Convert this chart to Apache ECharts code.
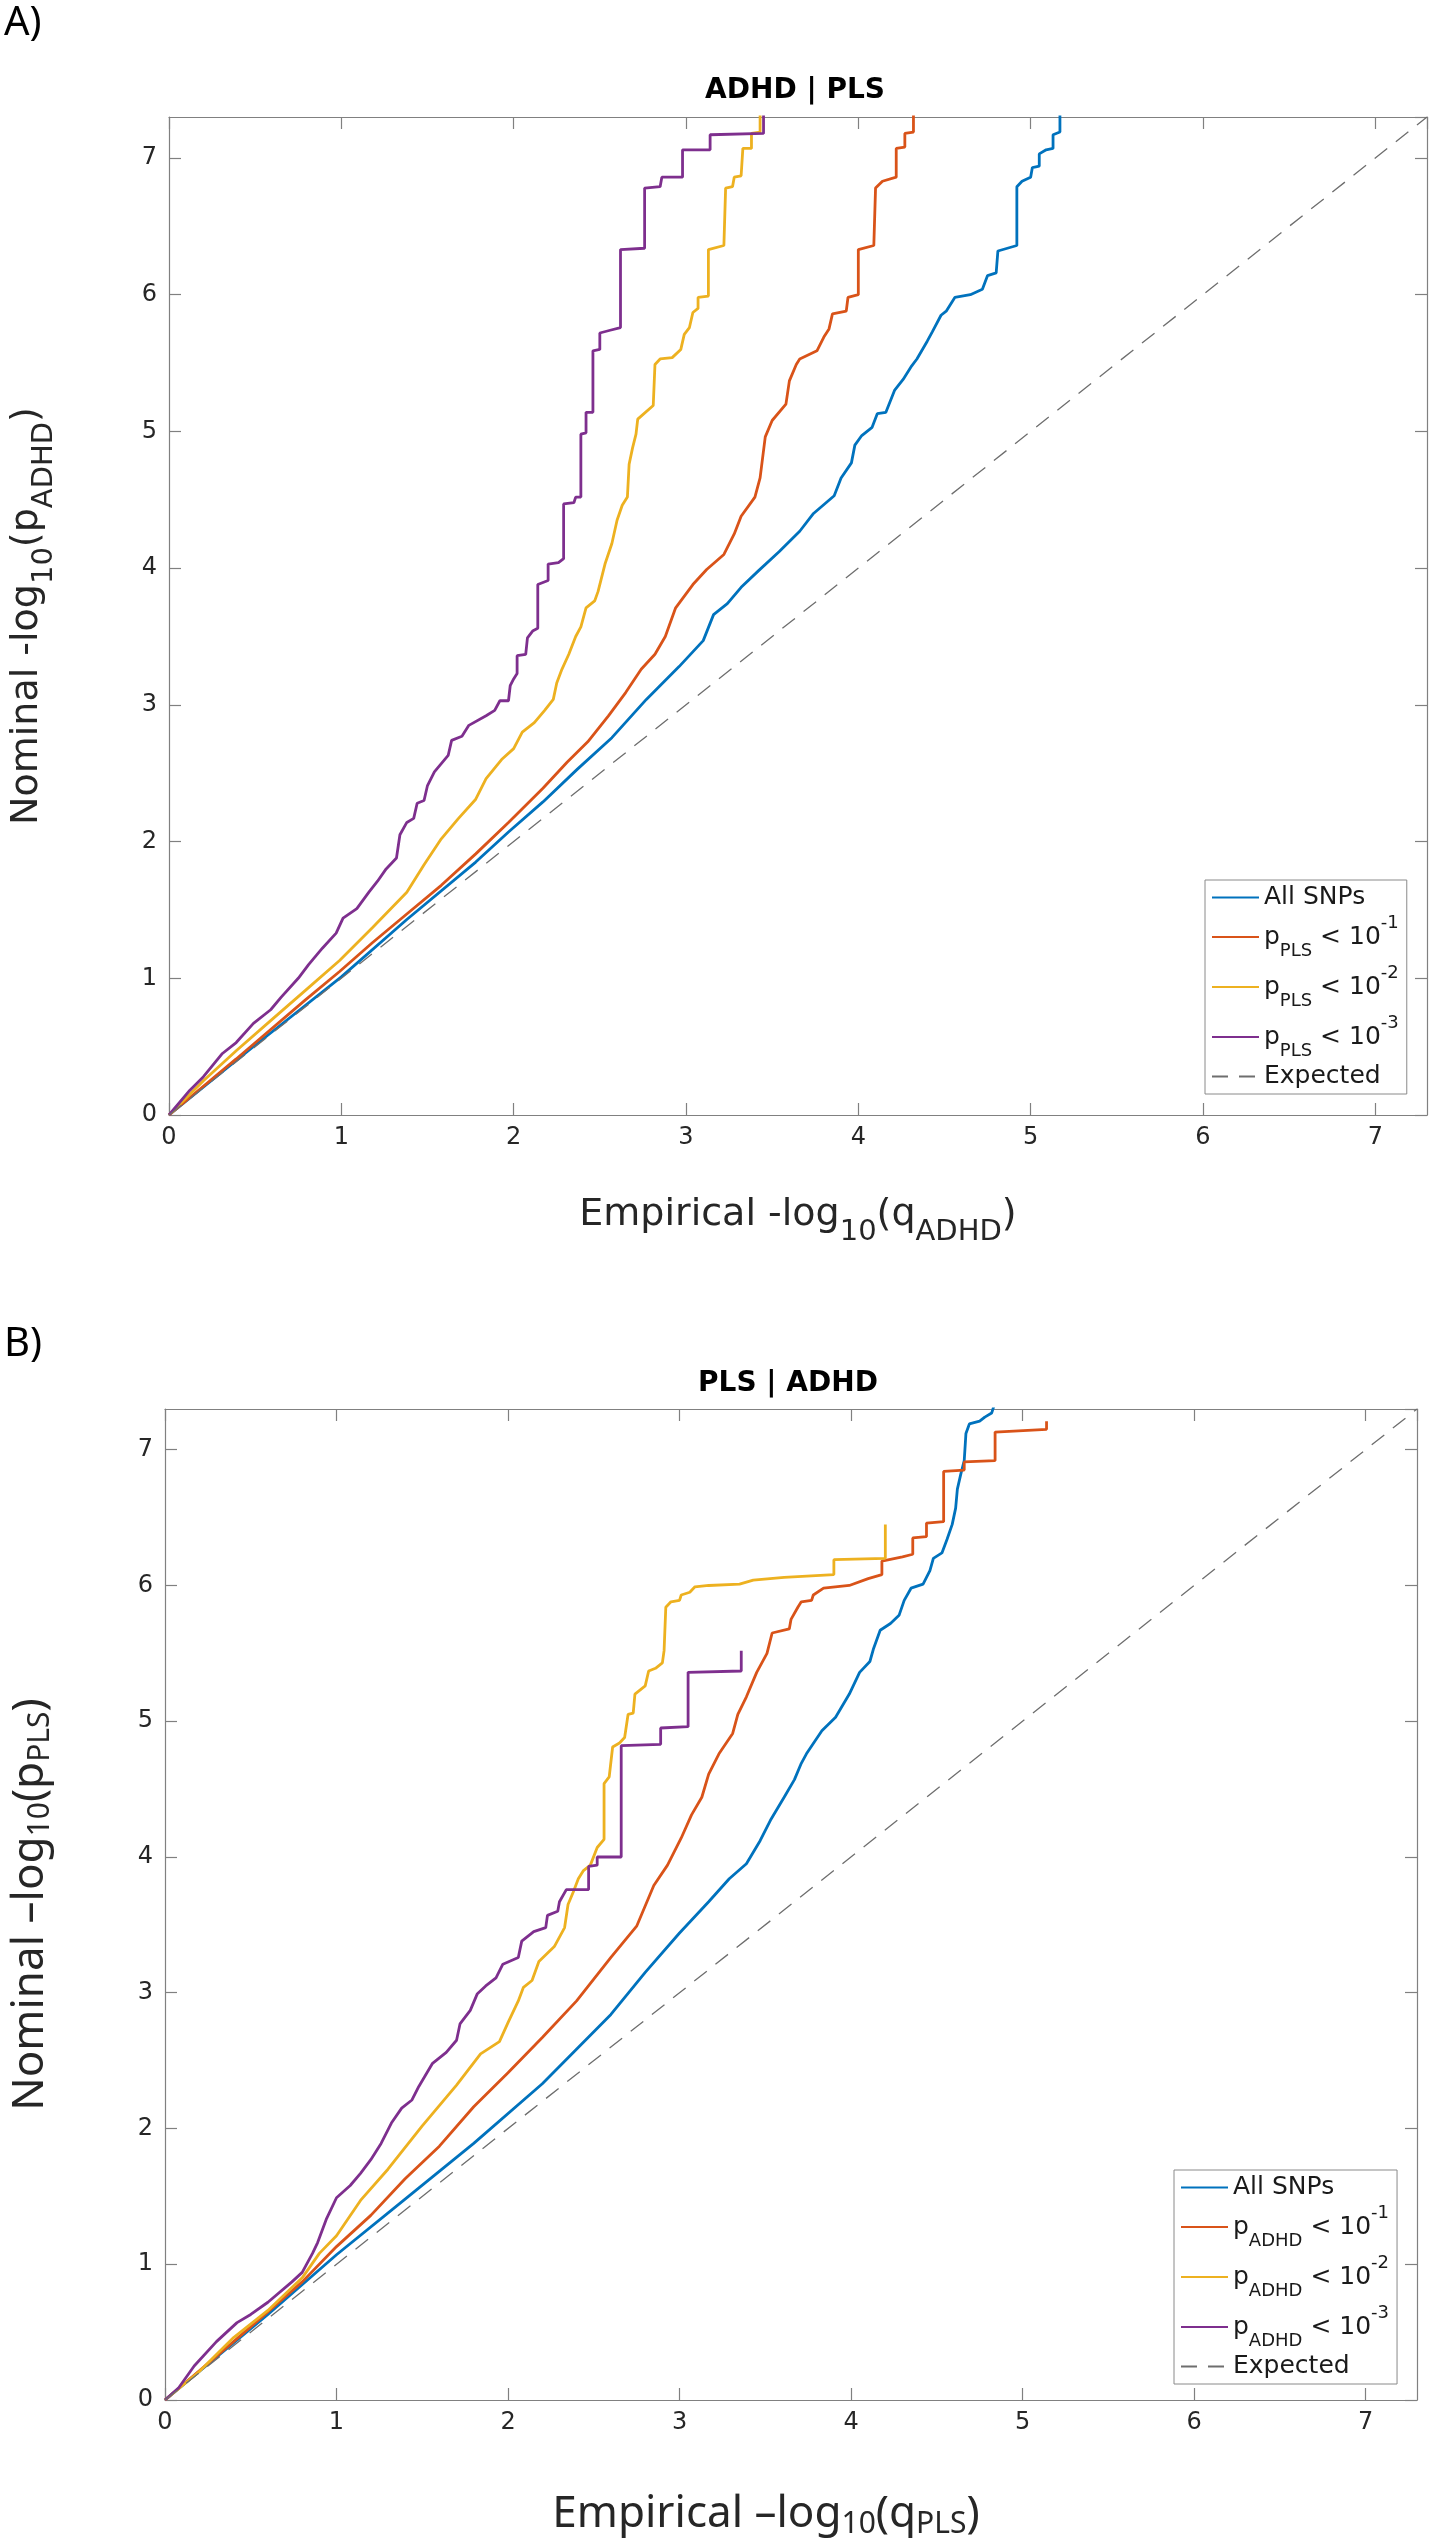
<!DOCTYPE html>
<html>
<head>
<meta charset="utf-8">
<script src="https://cdn.jsdelivr.net/npm/echarts@6/dist/echarts.min.js"></script>
<style>
html, body { margin: 0; padding: 0; background: #fff; }
#view { width: 1432px; height: 2540px; }
</style>
</head>
<body>
<div id="view"></div>
<script>
// axis range shared by both panels
var axisMax = 7.3;
var tickStep = 1;

// panel A: ADHD | PLS  (x = empirical, y = nominal)
var adhdAll = [[0,0],[0.5,0.51],[1.0,1.01],[1.38,1.43],[1.78,1.85],[1.97,2.07],[2.17,2.29],[2.37,2.53],[2.57,2.76],[2.77,3.04],[2.96,3.28],[3.10,3.47],[3.16,3.66],[3.24,3.74],[3.32,3.86],[3.42,3.98],[3.54,4.12],[3.66,4.27],[3.74,4.40],[3.86,4.53],[3.90,4.66],[3.96,4.77],[3.98,4.90],[4.02,4.97],[4.08,5.03],[4.11,5.13],[4.16,5.14],[4.21,5.30],[4.26,5.38],[4.31,5.48],[4.34,5.53],[4.40,5.66],[4.43,5.73],[4.48,5.85],[4.51,5.88],[4.56,5.98],[4.65,6.0],[4.72,6.04],[4.75,6.14],[4.80,6.16],[4.81,6.32],[4.92,6.36],[4.92,6.79],[4.95,6.83],[5.0,6.86],[5.01,6.93],[5.05,6.94],[5.05,7.03],[5.09,7.06],[5.13,7.07],[5.13,7.17],[5.17,7.19],[5.17,7.35]];
var adhdP1 = [[0,0],[0.39,0.41],[0.79,0.84],[0.99,1.05],[1.18,1.26],[1.38,1.47],[1.58,1.68],[1.78,1.91],[1.97,2.14],[2.17,2.39],[2.31,2.58],[2.43,2.73],[2.55,2.92],[2.65,3.09],[2.74,3.26],[2.82,3.37],[2.88,3.50],[2.94,3.71],[3.04,3.88],[3.12,3.99],[3.22,4.10],[3.28,4.25],[3.32,4.38],[3.40,4.52],[3.43,4.66],[3.46,4.96],[3.50,5.08],[3.58,5.20],[3.60,5.37],[3.64,5.49],[3.66,5.53],[3.76,5.59],[3.80,5.69],[3.83,5.75],[3.85,5.86],[3.93,5.88],[3.94,5.98],[4.0,6.0],[4.0,6.33],[4.09,6.36],[4.10,6.78],[4.14,6.83],[4.22,6.86],[4.22,7.07],[4.27,7.08],[4.27,7.18],[4.32,7.19],[4.32,7.35]];
var adhdP2 = [[0,0],[0.2,0.25],[0.39,0.47],[0.59,0.69],[0.79,0.91],[0.99,1.13],[1.18,1.37],[1.38,1.63],[1.48,1.83],[1.58,2.02],[1.68,2.17],[1.78,2.31],[1.84,2.46],[1.93,2.60],[2.0,2.68],[2.05,2.80],[2.12,2.87],[2.18,2.96],[2.23,3.04],[2.25,3.16],[2.28,3.26],[2.32,3.37],[2.36,3.50],[2.39,3.57],[2.42,3.71],[2.47,3.76],[2.49,3.83],[2.53,4.03],[2.57,4.18],[2.60,4.35],[2.63,4.46],[2.66,4.52],[2.67,4.76],[2.69,4.88],[2.71,4.98],[2.72,5.09],[2.81,5.19],[2.82,5.49],[2.85,5.53],[2.92,5.54],[2.97,5.60],[2.99,5.71],[3.02,5.76],[3.04,5.87],[3.07,5.90],[3.07,5.98],[3.13,5.99],[3.13,6.33],[3.22,6.36],[3.23,6.78],[3.27,6.79],[3.28,6.86],[3.32,6.87],[3.33,7.07],[3.38,7.07],[3.38,7.18],[3.43,7.19],[3.43,7.35]];
var adhdP3 = [[0,0],[0.12,0.18],[0.2,0.28],[0.31,0.45],[0.39,0.53],[0.49,0.67],[0.59,0.77],[0.65,0.86],[0.75,1.0],[0.81,1.1],[0.89,1.22],[0.97,1.33],[1.01,1.44],[1.09,1.51],[1.16,1.63],[1.21,1.71],[1.26,1.80],[1.32,1.88],[1.34,2.05],[1.38,2.14],[1.42,2.17],[1.44,2.28],[1.48,2.30],[1.50,2.41],[1.54,2.51],[1.58,2.57],[1.62,2.63],[1.64,2.74],[1.70,2.77],[1.74,2.85],[1.84,2.92],[1.89,2.96],[1.92,3.03],[1.97,3.03],[1.98,3.14],[2.0,3.19],[2.02,3.23],[2.02,3.36],[2.07,3.37],[2.08,3.49],[2.11,3.54],[2.14,3.56],[2.14,3.88],[2.20,3.91],[2.20,4.03],[2.26,4.04],[2.29,4.07],[2.29,4.47],[2.35,4.48],[2.36,4.52],[2.39,4.52],[2.39,4.98],[2.42,4.99],[2.42,5.14],[2.46,5.14],[2.46,5.59],[2.50,5.6],[2.50,5.72],[2.56,5.74],[2.62,5.76],[2.62,6.33],[2.76,6.34],[2.76,6.78],[2.85,6.79],[2.86,6.86],[2.98,6.86],[2.98,7.06],[3.14,7.06],[3.14,7.17],[3.45,7.18],[3.45,7.35]];

// panel B: PLS | ADHD
var plsAll = [[0,0],[0.6,0.63],[1.0,1.07],[1.40,1.48],[1.80,1.89],[2.20,2.33],[2.60,2.84],[2.80,3.15],[3.0,3.44],[3.17,3.67],[3.29,3.84],[3.39,3.95],[3.47,4.12],[3.53,4.27],[3.61,4.44],[3.67,4.57],[3.71,4.69],[3.74,4.76],[3.83,4.93],[3.91,5.03],[3.99,5.20],[4.05,5.36],[4.11,5.44],[4.13,5.53],[4.17,5.67],[4.23,5.72],[4.28,5.78],[4.31,5.89],[4.35,5.98],[4.42,6.01],[4.46,6.11],[4.48,6.20],[4.53,6.24],[4.56,6.34],[4.59,6.45],[4.61,6.57],[4.62,6.71],[4.64,6.82],[4.66,6.92],[4.67,7.12],[4.69,7.19],[4.75,7.21],[4.78,7.24],[4.82,7.27],[4.84,7.35]];
var plsP1 = [[0,0],[0.4,0.43],[0.8,0.87],[1.0,1.13],[1.2,1.36],[1.40,1.63],[1.60,1.87],[1.80,2.16],[2.0,2.41],[2.20,2.67],[2.40,2.94],[2.60,3.26],[2.75,3.49],[2.85,3.79],[2.93,3.94],[3.01,4.14],[3.07,4.31],[3.13,4.44],[3.17,4.61],[3.23,4.76],[3.31,4.91],[3.34,5.05],[3.39,5.18],[3.45,5.36],[3.51,5.50],[3.54,5.65],[3.64,5.68],[3.65,5.75],[3.69,5.84],[3.71,5.88],[3.77,5.89],[3.78,5.93],[3.84,5.98],[3.99,6.0],[4.10,6.05],[4.18,6.08],[4.18,6.18],[4.30,6.21],[4.36,6.23],[4.36,6.35],[4.44,6.36],[4.44,6.46],[4.54,6.47],[4.54,6.84],[4.66,6.85],[4.66,6.91],[4.84,6.92],[4.84,7.13],[5.14,7.15],[5.14,7.21]];
var plsP2 = [[0,0],[0.2,0.21],[0.4,0.46],[0.6,0.66],[0.8,0.90],[0.90,1.08],[1.0,1.21],[1.14,1.47],[1.30,1.70],[1.50,2.02],[1.70,2.32],[1.84,2.55],[1.95,2.64],[2.0,2.78],[2.06,2.94],[2.09,3.04],[2.14,3.09],[2.18,3.23],[2.27,3.34],[2.33,3.48],[2.35,3.65],[2.38,3.74],[2.41,3.84],[2.44,3.90],[2.48,3.94],[2.52,4.07],[2.56,4.13],[2.56,4.54],[2.59,4.59],[2.61,4.81],[2.65,4.84],[2.68,4.88],[2.70,5.05],[2.73,5.06],[2.74,5.20],[2.80,5.26],[2.82,5.37],[2.86,5.39],[2.90,5.43],[2.91,5.52],[2.92,5.84],[2.95,5.88],[3.0,5.89],[3.01,5.93],[3.06,5.95],[3.09,5.99],[3.17,6.0],[3.35,6.01],[3.43,6.04],[3.61,6.06],[3.90,6.08],[3.90,6.19],[4.20,6.20],[4.20,6.45]];
var plsP3 = [[0,0],[0.08,0.09],[0.17,0.25],[0.30,0.43],[0.42,0.57],[0.50,0.63],[0.60,0.72],[0.74,0.87],[0.80,0.94],[0.86,1.08],[0.89,1.16],[0.94,1.33],[1.0,1.49],[1.08,1.58],[1.14,1.67],[1.20,1.77],[1.26,1.89],[1.32,2.04],[1.38,2.15],[1.44,2.21],[1.48,2.31],[1.56,2.48],[1.64,2.56],[1.70,2.65],[1.72,2.77],[1.78,2.87],[1.82,2.99],[1.87,3.05],[1.93,3.11],[1.97,3.21],[2.06,3.26],[2.08,3.38],[2.15,3.45],[2.22,3.48],[2.23,3.57],[2.29,3.60],[2.30,3.67],[2.34,3.76],[2.47,3.76],[2.47,3.93],[2.52,3.94],[2.52,4.0],[2.66,4.0],[2.66,4.82],[2.89,4.83],[2.89,4.95],[3.05,4.96],[3.05,5.36],[3.36,5.37],[3.36,5.52]];

var expected = [[0,0],[7.3,7.3]];

var FONT = 'DejaVu Sans';
var GRAY = '#808080';
var INK = '#262626';
var colors = ['#0072BD', '#D95319', '#EDB120', '#7E2F8E'];

var labels = {
    aAll: '{all|All SNPs}',
    a1: '{p|p}{sub|PLS}{p| < 10}{sup|-1}',
    a2: '{p|p}{sub|PLS}{p| < 10}{sup|-2}',
    a3: '{p|p}{sub|PLS}{p| < 10}{sup|-3}',
    aExp: '{all|Expected}',
    bAll: '{all|All SNPs}',
    b1: '{p|p}{sub|ADHD}{p| < 10}{sup|-1}',
    b2: '{p|p}{sub|ADHD}{p| < 10}{sup|-2}',
    b3: '{p|p}{sub|ADHD}{p| < 10}{sup|-3}',
    bExp: '{all|Expected}'
};

var legendRich = {
    all: { fontFamily: FONT, fontSize: 25, lineHeight: 28, color: '#1a1a1a' },
    p:   { fontFamily: FONT, fontSize: 25, lineHeight: 46, color: '#1a1a1a' },
    sub: { fontFamily: FONT, fontSize: 18, lineHeight: 21, verticalAlign: 'bottom', color: '#1a1a1a' },
    sup: { fontFamily: FONT, fontSize: 18, lineHeight: 30, verticalAlign: 'top', color: '#1a1a1a' }
};

// panel A axis names: DejaVu with deep subscripts
var nameRichA = {
    n: { fontFamily: FONT, fontSize: 38, lineHeight: 64, color: INK },
    s: { fontFamily: FONT, fontSize: 29, lineHeight: 20, verticalAlign: 'bottom', color: INK }
};
// panel B axis names: rounder face, shallow subscripts
var nameRichB = {
    n: { fontFamily: 'Noto Sans', fontSize: 44, lineHeight: 50, color: INK },
    s: { fontFamily: 'Noto Sans', fontSize: 30, lineHeight: 25, verticalAlign: 'bottom', color: INK }
};

function makeLegend(names, left, top) {
    return {
        orient: 'vertical',
        left: left,
        top: top,
        data: names,
        selectedMode: false,
        itemWidth: 47,
        itemHeight: 14,
        itemGap: 4,
        padding: [5, 8, 5, 6],
        borderColor: '#8a8a8a',
        borderWidth: 1,
        backgroundColor: '#fff',
        itemStyle: { opacity: 0 },
        formatter: function (name) { return labels[name]; },
        textStyle: { fontFamily: FONT, fontSize: 25, color: '#1a1a1a', rich: legendRich }
    };
}

function axisBase(gridIndex) {
    return {
        gridIndex: gridIndex, type: 'value', min: 0, max: axisMax, interval: tickStep,
        axisLine: { show: true, onZero: false, lineStyle: { color: GRAY, width: 1.2 } },
        axisTick: { show: true, inside: true, length: 12, lineStyle: { color: GRAY, width: 1.2 } },
        splitLine: { show: false }
    };
}

function xAxisPair(gridIndex, name, nameGap, rich, namePad) {
    var bottom = Object.assign(axisBase(gridIndex), {
        position: 'bottom',
        axisLabel: { show: true, margin: 11, fontFamily: FONT, fontSize: 24, color: INK, showMaxLabel: false },
        name: name, nameLocation: 'middle', nameGap: nameGap,
        nameTextStyle: { rich: rich, padding: namePad }
    });
    var top = Object.assign(axisBase(gridIndex), { position: 'top', axisLabel: { show: false } });
    return [bottom, top];
}

function yAxisPair(gridIndex, name, nameGap, rich) {
    var left = Object.assign(axisBase(gridIndex), {
        position: 'left',
        axisLabel: { show: true, margin: 12, fontFamily: FONT, fontSize: 24, color: INK, showMaxLabel: false },
        name: name, nameLocation: 'middle', nameGap: nameGap, nameRotate: 90,
        nameTextStyle: { rich: rich }
    });
    var right = Object.assign(axisBase(gridIndex), { position: 'right', axisLabel: { show: false } });
    return [left, right];
}

function curve(name, data, color, axisIdx) {
    return {
        name: name, type: 'line', data: data, xAxisIndex: axisIdx, yAxisIndex: axisIdx,
        symbol: 'none', showSymbol: false, clip: true,
        lineStyle: { color: color, width: 2.8 }, itemStyle: { color: color }
    };
}

function diag(name, axisIdx) {
    return {
        name: name, type: 'line', data: expected, xAxisIndex: axisIdx, yAxisIndex: axisIdx,
        symbol: 'none', showSymbol: false, clip: true,
        lineStyle: { color: '#6e6e6e', width: 1.3, type: [16, 11] }, itemStyle: { color: '#6e6e6e' }
    };
}

var chart = echarts.init(document.getElementById('view'));

var option = {
    animation: false,
    backgroundColor: '#fff',
    grid: [
        { left: 163, top: 117, width: 1264, height: 998 },
        { left: 159, top: 1409, width: 1258, height: 994 }
    ],
    xAxis: xAxisPair(0, '{n|Empirical -log}{s|10}{n|(q}{s|ADHD}{n|)}', 68, nameRichA, [0, 0, 0, 0])
        .concat(xAxisPair(1, '{n|Empirical \u2013log}{s|10}{n|(q}{s|PLS}{n|)}', 89, nameRichB, [0, 50, 0, 0])),
    yAxis: yAxisPair(0, '{n|Nominal -log}{s|10}{n|(p}{s|ADHD}{n|)}', 110, nameRichA)
        .concat(yAxisPair(1, '{n|Nominal \u2013log}{s|10}{n|(p}{s|PLS}{n|)}', 110, nameRichB)),
    legend: [
        makeLegend(['aAll', 'a1', 'a2', 'a3', 'aExp'], 1205, 880),
        makeLegend(['bAll', 'b1', 'b2', 'b3', 'bExp'], 1174, 2170)
    ],
    graphic: [
        { type: 'text', x: 4, y: 24, style: { text: 'A)', font: '40px "Noto Sans"', fill: '#000', verticalAlign: 'middle' } },
        { type: 'text', x: 4, y: 1345, style: { text: 'B)', font: '40px "Noto Sans"', fill: '#000', verticalAlign: 'middle' } },
        { type: 'text', x: 795, y: 91, style: { text: 'ADHD | PLS', font: 'bold 28px "DejaVu Sans"', fill: '#000', align: 'center', verticalAlign: 'middle' } },
        { type: 'text', x: 788, y: 1384, style: { text: 'PLS | ADHD', font: 'bold 28px "DejaVu Sans"', fill: '#000', align: 'center', verticalAlign: 'middle' } }
    ],
    series: [
        curve('aAll', adhdAll, colors[0], 0),
        curve('a1', adhdP1, colors[1], 0),
        curve('a2', adhdP2, colors[2], 0),
        curve('a3', adhdP3, colors[3], 0),
        diag('aExp', 0),
        curve('bAll', plsAll, colors[0], 2),
        curve('b1', plsP1, colors[1], 2),
        curve('b2', plsP2, colors[2], 2),
        curve('b3', plsP3, colors[3], 2),
        diag('bExp', 2)
    ]
};

chart.setOption(option);
</script>
</body>
</html>
